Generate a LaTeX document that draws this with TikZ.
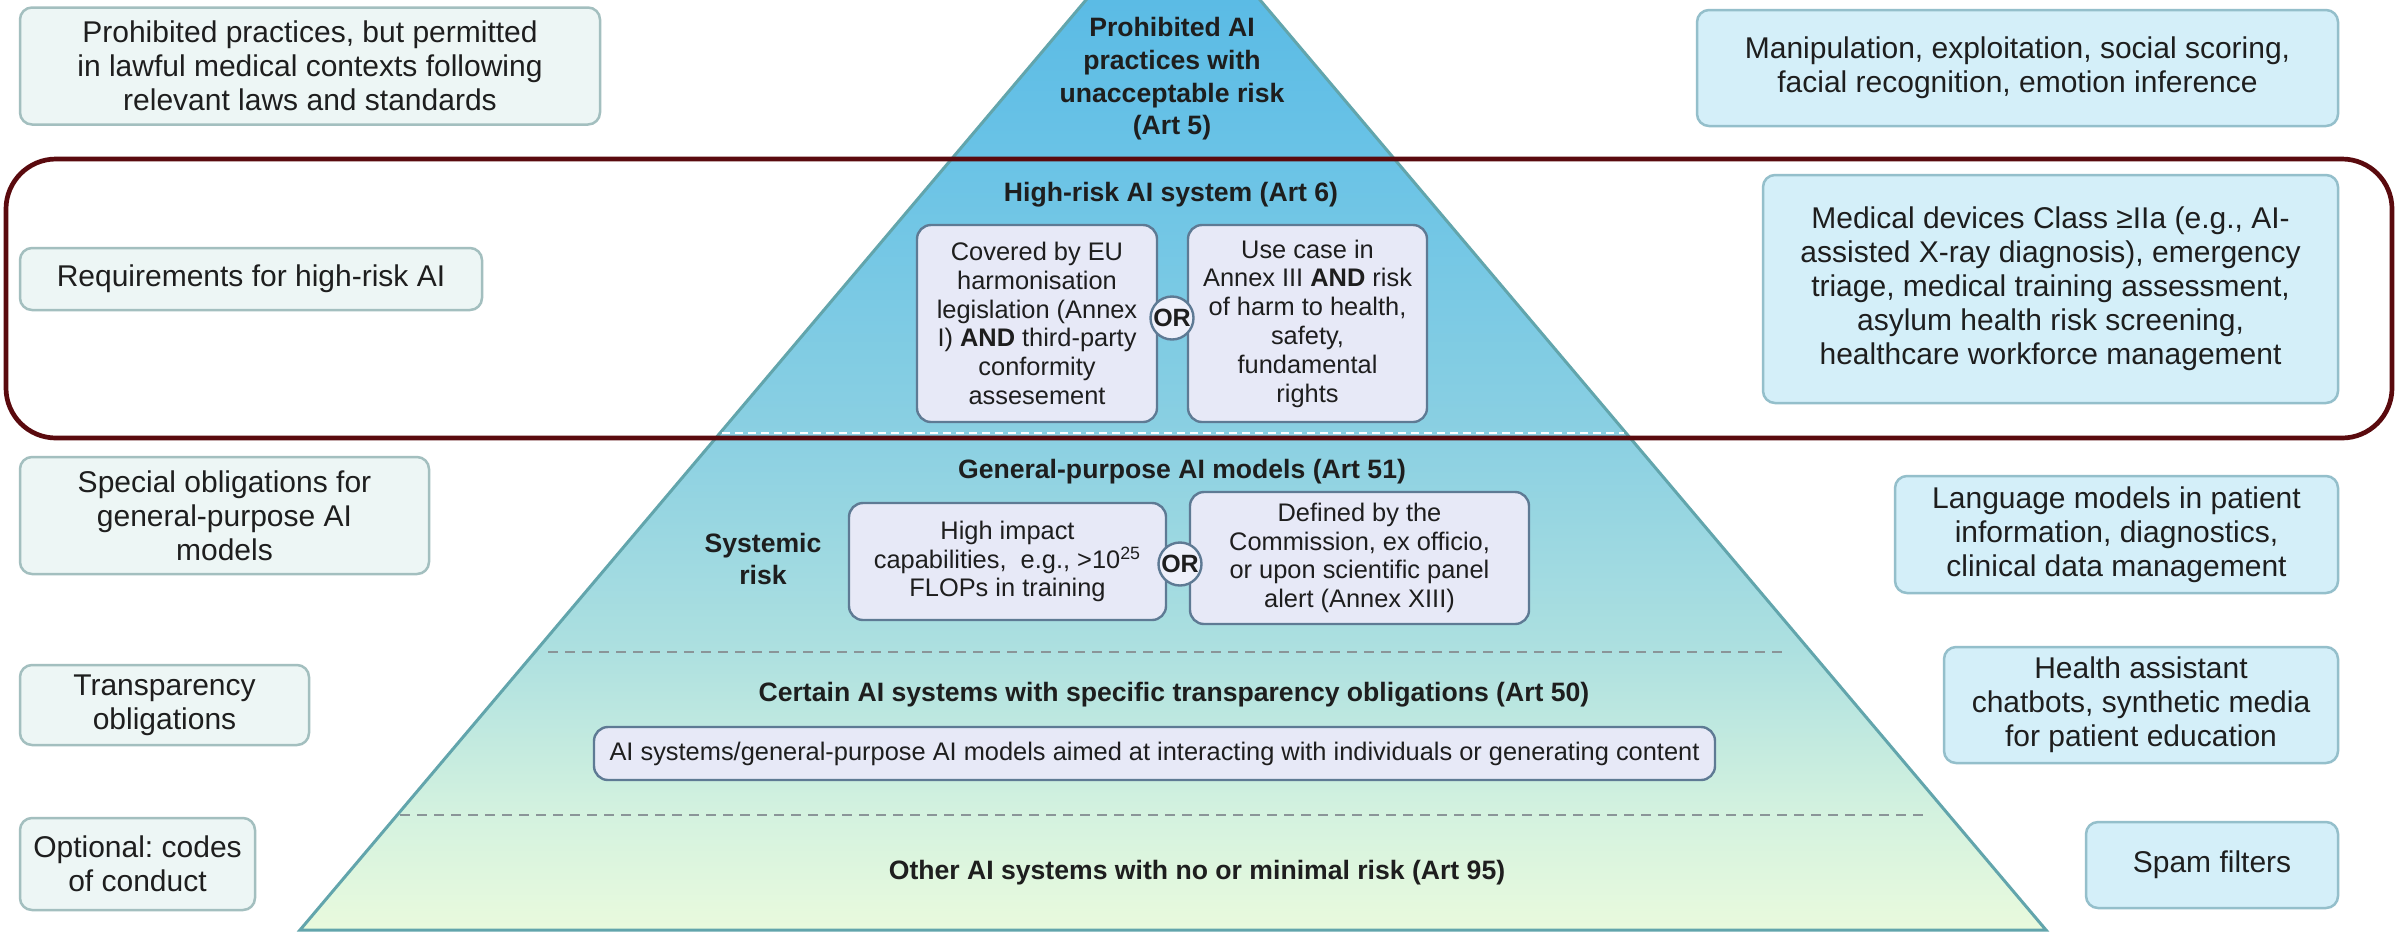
\documentclass[tikz,border=0pt]{standalone}
\usepackage{fontspec}
\setmainfont{Liberation Sans}
\frenchspacing

% colours
\definecolor{txt}{HTML}{1E1E1E}
\definecolor{leftfill}{HTML}{EDF6F5}
\definecolor{leftline}{HTML}{A3BFBF}
\definecolor{rightfill}{HTML}{D4EFF9}
\definecolor{rightline}{HTML}{94BFCB}
\definecolor{innerfill}{HTML}{E7E9F7}
\definecolor{innerline}{HTML}{5E7A94}
\definecolor{orfill}{HTML}{EEF0FA}
\definecolor{frame}{HTML}{5A0A0E}
\definecolor{pyredge}{HTML}{62A5AC}
\definecolor{tierdash}{HTML}{8A9598}
\definecolor{pyrA}{HTML}{E9FADD}
\definecolor{pyrB}{HTML}{D4F2DF}
\definecolor{pyrC}{HTML}{ADE0E0}
\definecolor{pyrD}{HTML}{8BD0E2}
\definecolor{pyrE}{HTML}{6AC3E6}
\definecolor{pyrF}{HTML}{5BBBE5}

% vertical colour ramp of the pyramid (25bp = base, 75bp = apex)
\pgfdeclareverticalshading{pyrshade}{100bp}{%
  color(0bp)=(pyrA); color(25bp)=(pyrA); color(30.57bp)=(pyrB);
  color(38.55bp)=(pyrC); color(48.81bp)=(pyrD); color(62.27bp)=(pyrE);
  color(70bp)=(pyrF); color(100bp)=(pyrF)}

\newcommand\pyrSideFont{\fontsize{15pt}{17pt}\selectfont}
\newcommand\pyrTitleFont{\fontsize{13.3pt}{16.35pt}\selectfont\bfseries}
\newcommand\pyrInnerFont{\fontsize{12.7pt}{14.4pt}\selectfont}
\newcommand\pyrOrFont{\fontsize{12.5pt}{13pt}\selectfont\bfseries}

\begin{document}
\begin{tikzpicture}[x=0.5pt, y=-0.5pt,
  every node/.style={text=txt},
  leftbox/.style={draw=leftline, fill=leftfill, line width=1.25pt,
    rounded corners=6pt, align=center, font=\pyrSideFont, inner sep=0pt},
  rightbox/.style={draw=rightline, fill=rightfill, line width=1.25pt,
    rounded corners=6pt, align=center, font=\pyrSideFont, inner sep=0pt},
  innerbox/.style={draw=innerline, fill=innerfill, line width=1.2pt,
    rounded corners=7pt, align=center, font=\pyrInnerFont, inner sep=0pt},
  orbadge/.style={circle, draw=innerline, fill=orfill, line width=1.2pt,
    minimum size=21.5pt, inner sep=0pt, font=\pyrOrFont},
  tiertitle/.style={align=center, font=\pyrTitleFont, inner sep=0pt},
  tierline/.style={draw=tierdash, line width=1.3pt, dash pattern=on 5pt off 3.5pt}
]
\useasboundingbox (0,0) rectangle (2403,933);
\fill[white] (0,0) rectangle (2403,933);

% pyramid body
\begin{scope}
  \clip (0,0) rectangle (2403,933);
  \coordinate (apex) at (1173,-103);
  \coordinate (baseL) at (300,930);
  \coordinate (baseR) at (2046,930);
  \shade[shading=pyrshade] (apex) -- (baseR) -- (baseL) -- cycle;
  \draw[pyredge, line width=1.5pt, line join=miter] (apex) -- (baseR) -- (baseL) -- cycle;
\end{scope}

% tier separators
\coordinate (s1a) at (722,433);  \coordinate (s1b) at (1624,433);
\draw[white, line width=1pt, dash pattern=on 4pt off 2.5pt] (s1a) -- (s1b);
\coordinate (s2a) at (548,652);  \coordinate (s2b) at (1786,652);
\draw[tierline] (s2a) -- (s2b);
\coordinate (s3a) at (400,815);  \coordinate (s3b) at (1929,815);
\draw[tierline] (s3a) -- (s3b);

% tier titles
\node[tiertitle] (tProh) at (1172,79) {Prohibited AI\\practices with\\unacceptable risk\\(Art 5)};
\node[tiertitle] (tHigh) at (1171,195) {High-risk AI system (Art 6)};
\node[tiertitle] (tGpai) at (1182,472) {General-purpose AI models (Art 51)};
\node[tiertitle] (tSys) at (763,559) {Systemic\\risk};
\node[tiertitle] (tTrans) at (1174,695) {Certain AI systems with specific transparency obligations (Art 50)};
\node[tiertitle] (tMin) at (1197,873) {Other AI systems with no or minimal risk (Art 95)};

% criteria boxes
\node[innerbox, minimum width=120pt, minimum height=98.5pt] (hL) at (1037,323.5)
  {Covered by EU\\harmonisation\\legislation (Annex\\I) \textbf{AND} third-party\\conformity\\assesement};
\node[innerbox, minimum width=119.5pt, minimum height=98.5pt] (hR) at (1307.5,323.5)
  {Use case in\\Annex III \textbf{AND} risk\\of harm to health,\\safety,\\fundamental\\rights};
\node[orbadge] (or1) at (1172,318) {OR};

\node[innerbox, minimum width=158.5pt, minimum height=58.5pt] (gL) at (1007.5,561.5)
  {High impact\\capabilities,~ e.g., >10\textsuperscript{25}\\FLOPs in training};
\node[innerbox, minimum width=169.5pt, minimum height=66pt] (gR) at (1359.5,558)
  {Defined by the\\Commission, ex officio,\\or upon scientific panel\\alert (Annex XIII)};
\node[orbadge] (or2) at (1180,564) {OR};

\node[innerbox, minimum width=560.5pt, minimum height=26.5pt] (tBox) at (1154.5,753.5)
  {AI systems/general-purpose AI models aimed at interacting with individuals or generating content};

% obligations (left column)
\node[leftbox, minimum width=290pt, minimum height=58.5pt] (l1) at (310,66)
  {Prohibited practices, but permitted\\in lawful medical contexts following\\relevant laws and standards};
\node[leftbox, minimum width=231pt, minimum height=31pt] (l2) at (251,279)
  {Requirements for high-risk AI};
\node[leftbox, minimum width=204.5pt, minimum height=58.5pt] (l3) at (224.5,515.5)
  {Special obligations for\\general-purpose AI\\models};
\node[leftbox, minimum width=144.5pt, minimum height=40pt] (l4) at (164.5,705)
  {Transparency\\obligations};
\node[leftbox, minimum width=117.5pt, minimum height=46pt] (l5) at (137.5,864)
  {Optional: codes\\of conduct};

% examples (right column)
\node[rightbox, minimum width=320.5pt, minimum height=58pt] (r1) at (2017.5,68)
  {Manipulation, exploitation, social scoring,\\facial recognition, emotion inference};
\node[rightbox, minimum width=287.5pt, minimum height=114pt] (r2) at (2050.5,289)
  {Medical devices Class ≥IIa (e.g., AI-\\assisted X-ray diagnosis), emergency\\triage, medical training assessment,\\asylum health risk screening,\\healthcare workforce management};
\node[rightbox, minimum width=221.5pt, minimum height=58.5pt] (r3) at (2116.5,534.5)
  {Language models in patient\\information, diagnostics,\\clinical data management};
\node[rightbox, minimum width=197pt, minimum height=58pt] (r4) at (2141,705)
  {Health assistant\\chatbots, synthetic media\\for patient education};
\node[rightbox, minimum width=126pt, minimum height=43pt] (r5) at (2212,865)
  {Spam filters};

% highlight frame around the high-risk row
\draw[frame, line width=2.35pt, rounded corners=25pt] (6,159) rectangle (2392,438);
\end{tikzpicture}
\end{document}
